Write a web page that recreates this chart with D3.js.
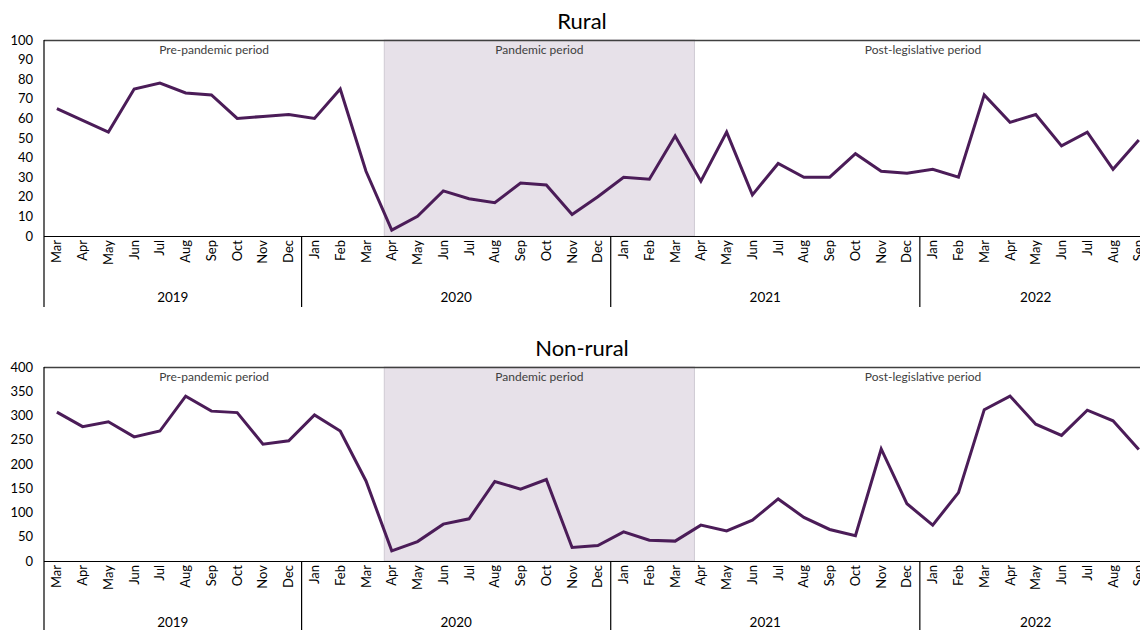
<!DOCTYPE html>
<html><head><meta charset="utf-8">
<script src="https://cdn.jsdelivr.net/npm/d3@7"></script>
<style>
html,body{margin:0;padding:0;background:#fff;}
svg{display:block;font-family:Lato,"Open Sans",sans-serif;}
</style></head>
<body>
<svg id="c" width="1140" height="630"></svg>
<script>
const monthNames = ["Mar","Apr","May","Jun","Jul","Aug","Sep","Oct","Nov","Dec",
  "Jan","Feb","Mar","Apr","May","Jun","Jul","Aug","Sep","Oct","Nov","Dec",
  "Jan","Feb","Mar","Apr","May","Jun","Jul","Aug","Sep","Oct","Nov","Dec",
  "Jan","Feb","Mar","Apr","May","Jun","Jul","Aug","Sep"];
const yearLabels = ["2019","2020","2021","2022"];
const yearCounts = [10,12,12,9];
const rural = [65,59,53,75,78,73,72,60,61,62,
  60,75,33,3,10,23,19,17,27,26,11,20,
  30,29,51,28,53,21,37,30,30,42,33,32,
  34,30,72,58,62,46,53,34,49];
const nonRural = [307,277,287,256,268,340,309,306,241,248,
  301,268,165,21,40,76,87,164,148,168,28,32,
  60,43,41,74,62,84,128,90,65,52,231,118,
  74,141,312,340,282,259,311,289,230];
const ruralTicks = [0,10,20,30,40,50,60,70,80,90,100];
const nonRuralTicks = [0,50,100,150,200,250,300,350,400];
const periodLabels = ["Pre-pandemic period","Pandemic period","Post-legislative period"];
const pandemicStartIdx = 13, pandemicEndIdx = 24;

const svg = d3.select("#c");
const idx = d3.range(monthNames.length);
const x = d3.scaleBand().domain(idx).range([44, 44 + 43*25.76]).padding(0);
const bw = x.bandwidth();
const lineColor = "#4b1c58";

function panel(cfg){
  const g = svg.append("g");
  const y = d3.scaleLinear().domain([0, cfg.max]).range([cfg.bottom, cfg.top]);
  // title
  g.append("text").attr("x",582).attr("y",cfg.titleY).attr("text-anchor","middle")
    .attr("font-size",22).attr("fill","#000").text(cfg.title);
  // shading
  const sx0 = x(pandemicStartIdx) + 0.21*bw, sx1 = x(pandemicEndIdx) + 1.25*bw;
  g.append("rect").attr("x",sx0).attr("y",cfg.top).attr("width",sx1-sx0).attr("height",cfg.bottom-cfg.top)
    .attr("fill","#e7e1e9").attr("stroke","#cfcad3").attr("stroke-width",1);
  // period labels
  const right = x.range()[1];
  const centers = [(44+sx0)/2,(sx0+sx1)/2,(sx1+right)/2];
  periodLabels.forEach((t,i)=>{
    g.append("text").attr("x",centers[i]).attr("y",cfg.top+14).attr("text-anchor","middle")
      .attr("font-size",12).attr("fill","#404040").text(t);
  });
  // border top
  g.append("line").attr("x1",44).attr("x2",1140).attr("y1",cfg.top+0.5).attr("y2",cfg.top+0.5)
    .attr("stroke","#404040").attr("stroke-width",1.3);
  // y axis
  const ya = g.append("g").attr("transform","translate(44,0)")
    .call(d3.axisLeft(y).tickValues(cfg.ticks).tickSize(0).tickPadding(11));
  ya.select(".domain").remove();
  ya.selectAll("text").attr("font-size",13).attr("fill","#000").attr("font-family","Lato,'Open Sans',sans-serif");
  // x axis line
  g.append("line").attr("x1",44).attr("x2",1140).attr("y1",cfg.bottom+0.5).attr("y2",cfg.bottom+0.5)
    .attr("stroke","#000").attr("stroke-width",1.2);
  // month labels
  g.selectAll(".m").data(idx).enter().append("text")
    .attr("transform",d=>`translate(${x(d)+bw/2+4.5},${cfg.bottom+4}) rotate(-90)`)
    .attr("text-anchor","end").attr("font-size",13).attr("fill","#000")
    .text(d=>monthNames[d]);
  // year separators and labels
  let start = 0;
  yearCounts.forEach((n,i)=>{
    const xs = x(start);
    g.append("line").attr("x1",xs).attr("x2",xs).attr("y1",i===0?cfg.top:cfg.bottom).attr("y2",cfg.sepBottom)
      .attr("stroke","#000").attr("stroke-width",1.2);
    const xe = start+n < idx.length ? x(start+n) : right;
    g.append("text").attr("x",(xs+xe)/2).attr("y",cfg.yearY).attr("text-anchor","middle")
      .attr("font-size",13.5).attr("fill","#000").text(yearLabels[i]);
    start += n;
  });
  // line
  const line = d3.line().x((d,i)=>x(i)+bw/2).y(d=>y(d));
  g.append("path").datum(cfg.data).attr("d",line).attr("fill","none")
    .attr("stroke",lineColor).attr("stroke-width",3).attr("stroke-linejoin","miter");
}

panel({title:"Rural",titleY:29,top:40,bottom:236,max:100,ticks:ruralTicks,data:rural,sepBottom:307,yearY:302});
panel({title:"Non-rural",titleY:356,top:367,bottom:561,max:400,ticks:nonRuralTicks,data:nonRural,sepBottom:632,yearY:627});
</script>
</body></html>
